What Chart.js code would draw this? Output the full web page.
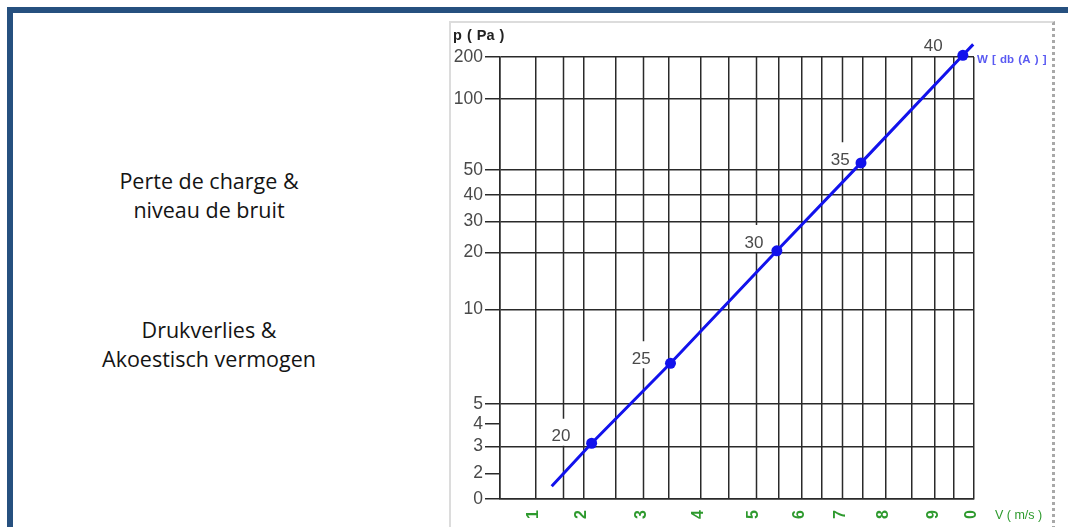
<!DOCTYPE html>
<html>
<head>
<meta charset="utf-8">
<script src="https://cdn.jsdelivr.net/npm/chart.js@4/dist/chart.umd.min.js"></script>
<style>
  html, body { margin: 0; padding: 0; background: #fff; }
  body { width: 1068px; height: 527px; position: relative; overflow: hidden; }
  #frame { position: absolute; left: 7px; top: 7px; right: -10px; bottom: -10px;
           border-top: 6px solid #26507f; border-left: 6px solid #26507f; }
  .caption { position: absolute; left: 60px; width: 298px; text-align: center;
             font-family: "Open Sans", sans-serif; font-size: 21.5px; line-height: 29px; color: #141414; }
  #panel { position: absolute; left: 449px; top: 21px; width: 601px; height: 520px;
           border-top: 2px solid #dcdcdc; border-left: 2px solid #dcdcdc; border-right: 3px dotted #a8a8a8; }
  #chart { position: absolute; left: 451px; top: 22px; }
</style>
</head>
<body>
<div id="frame"></div>
<div class="caption" style="top:166px">Perte de charge &amp;<br>niveau de bruit</div>
<div class="caption" style="top:314.5px">Drukverlies &amp;<br>Akoestisch vermogen</div>
<div id="panel"></div>
<canvas id="chart" width="600" height="505"></canvas>
<script>
// velocity axis (m/s): vertical grid lines and labelled ticks
const vGridValues = [0.5, 1, 1.5, 2, 2.5, 3, 3.5, 4, 4.5, 5, 5.5, 6, 6.5, 7, 7.5, 8, 8.5, 9, 9.5, 10];
const vLabelValues = [1, 2, 3, 4, 5, 6, 7, 8, 9, 10];
const vLabels = ['1', '2', '3', '4', '5', '6', '7', '8', '9', '0'];

// pressure axis (Pa)
const pTickValues = [0, 2, 3, 4, 5, 10, 20, 30, 40, 50, 100, 200];
const pShortTicks = [2, 4];

// sound power points W [dB(A)]
const dbLevels = ['20', '25', '30', '35', '40'];
const dbV = [2.12, 3.52, 5.45, 7.45, 9.72];
const dbP = [3.14, 7.15, 20.5, 55.1, 204];
const dbLabelV = [1.5, 3, 5, 7, 9];
const dbLabelP = [3.43, 7.37, 23.0, 57.0, 226];

// ends of the drawn line
const lineEndsV = [1.29, 9.98];
const lineEndsP = [1.0, 230];

const gridColor = '#2a2a2a';
const blue = 'rgb(18,18,236)';
const green = '#2e9a2e';

// piecewise axis: the printed chart has hand spaced grid lines
class KnotScale extends Chart.LinearScale {
  determineDataLimits() {
    const vals = this.options.knotValues;
    this.min = vals[0];
    this.max = vals[vals.length - 1];
  }
  buildTicks() {
    return this.options.tickValues.map(value => ({ value }));
  }
  toDecimal(value) {
    const vals = this.options.knotValues, pos = this.options.knotPositions;
    let i = 1;
    while (i < vals.length - 1 && value > vals[i]) i++;
    return pos[i - 1] + (value - vals[i - 1]) / (vals[i] - vals[i - 1]) * (pos[i] - pos[i - 1]);
  }
  getPixelForValue(value) {
    if (value === null || value === undefined) return NaN;
    return this.getPixelForDecimal(this.toDecimal(value));
  }
  getValueForPixel(pixel) {
    const vals = this.options.knotValues, pos = this.options.knotPositions;
    const d = this.getDecimalForPixel(pixel);
    let i = 1;
    while (i < pos.length - 1 && d > pos[i]) i++;
    return vals[i - 1] + (d - pos[i - 1]) / (pos[i] - pos[i - 1]) * (vals[i] - vals[i - 1]);
  }
}
KnotScale.id = 'knots';
Chart.register(KnotScale);

const insidePlot = i => dbLabelP[i] <= pTickValues[pTickValues.length - 1];
const brokenLines = dbLabelV.filter((v, i) => insidePlot(i));

const curve = [{ x: lineEndsV[0], y: lineEndsP[0] }]
  .concat(dbV.map((v, i) => ({ x: v, y: dbP[i] })))
  .concat([{ x: lineEndsV[1], y: lineEndsP[1] }]);
const dots = dbV.map((v, i) => ({ x: v, y: dbP[i] }));

const nomogram = {
  id: 'nomogram',
  beforeDatasetsDraw(chart) {
    const { ctx, chartArea, scales: { x, y } } = chart;
    ctx.save();
    ctx.strokeStyle = gridColor;
    ctx.lineWidth = 1.5;
    dbLabelV.forEach((v, i) => {
      if (!insidePlot(i)) return;
      const px = Math.round(x.getPixelForValue(v)) + 0.5;
      const py = y.getPixelForValue(dbLabelP[i]);
      ctx.beginPath();
      ctx.moveTo(px, chartArea.top);
      ctx.lineTo(px, py - 18);
      ctx.moveTo(px, py + 9);
      ctx.lineTo(px, chartArea.bottom);
      ctx.stroke();
    });
    ctx.restore();
  },
  afterDatasetsDraw(chart) {
    const { ctx, chartArea, scales: { x, y } } = chart;
    ctx.save();
    ctx.font = '17px "Liberation Sans", Arial, sans-serif';
    ctx.fillStyle = '#4a4a4a';
    ctx.textAlign = 'center';
    ctx.textBaseline = 'middle';
    dbLevels.forEach((lbl, i) => {
      ctx.fillText(lbl, x.getPixelForValue(dbLabelV[i]) - 2, y.getPixelForValue(dbLabelP[i]));
    });

    ctx.textAlign = 'left';
    ctx.font = 'bold 14.5px "Liberation Sans", Arial, sans-serif';
    ctx.fillStyle = '#222';
    ctx.textBaseline = 'alphabetic';
    ctx.wordSpacing = '1px';
    ctx.fillText('p ( Pa )', chartArea.left - 47, chartArea.top - 17);

    ctx.textBaseline = 'middle';
    ctx.font = 'bold 11.5px "Liberation Sans", Arial, sans-serif';
    ctx.fillStyle = '#5a5af2';
    ctx.fillText('W [ db (A ) ]', chartArea.right + 3, chartArea.top + 3);

    ctx.wordSpacing = '0px';
    ctx.font = '12.5px "Liberation Sans", Arial, sans-serif';
    ctx.fillStyle = green;
    ctx.fillText('V ( m/s )', chartArea.right + 21, chartArea.bottom + 17);
    ctx.restore();
  }
};

new Chart(document.getElementById('chart'), {
  type: 'line',
  data: {
    datasets: [
      {
        data: curve,
        borderColor: blue,
        borderWidth: 3,
        pointRadius: 0,
        tension: 0,
        clip: false
      },
      {
        data: dots,
        showLine: false,
        pointRadius: 5.5,
        pointBackgroundColor: blue,
        pointBorderColor: blue,
        pointBorderWidth: 0,
        clip: false
      }
    ]
  },
  options: {
    responsive: false,
    animation: false,
    events: [],
    layout: { padding: { left: 0, top: 35, right: 77, bottom: 0 } },
    plugins: { legend: { display: false }, tooltip: { enabled: false } },
    scales: {
      x: {
        type: 'knots',
        position: 'bottom',
        knotValues: vGridValues,
        knotPositions: [0, 0.076, 0.133, 0.177, 0.245, 0.302, 0.357, 0.424, 0.483, 0.540,
                        0.589, 0.637, 0.679, 0.722, 0.766, 0.814, 0.869, 0.918, 0.958, 1],
        tickValues: vGridValues,
        afterFit: s => { s.height = 28; },
        grid: {
          drawTicks: false,
          lineWidth: 1.5,
          color: c => (c.tick && brokenLines.includes(c.tick.value)) ? 'rgba(0,0,0,0)' : gridColor
        },
        border: { color: gridColor, width: 1.5 },
        ticks: {
          autoSkip: false,
          minRotation: 90,
          maxRotation: 90,
          padding: 11,
          labelOffset: -2,
          color: green,
          font: { family: '"Liberation Sans", Arial, sans-serif', size: 16, weight: 'bold' },
          callback: value => {
            const k = vLabelValues.indexOf(value);
            return k < 0 ? '' : vLabels[k];
          }
        }
      },
      y: {
        type: 'knots',
        position: 'left',
        knotValues: pTickValues,
        knotPositions: [0, 0.058, 0.119, 0.170, 0.215, 0.429, 0.558, 0.628, 0.688, 0.744, 0.905, 1],
        tickValues: pTickValues,
        afterFit: s => { s.width = 49; },
        grid: {
          lineWidth: 1.5,
          tickLength: 15,
          tickColor: gridColor,
          tickWidth: 1.5,
          color: c => (c.tick && pShortTicks.includes(c.tick.value)) ? 'rgba(0,0,0,0)' : gridColor
        },
        border: { color: gridColor, width: 1.5 },
        ticks: {
          autoSkip: false,
          padding: 2,
          color: '#4a4a4a',
          font: { family: '"Liberation Sans", Arial, sans-serif', size: 17.5 },
          callback: value => String(value)
        }
      }
    }
  },
  plugins: [nomogram]
});
</script>
</body>
</html>
